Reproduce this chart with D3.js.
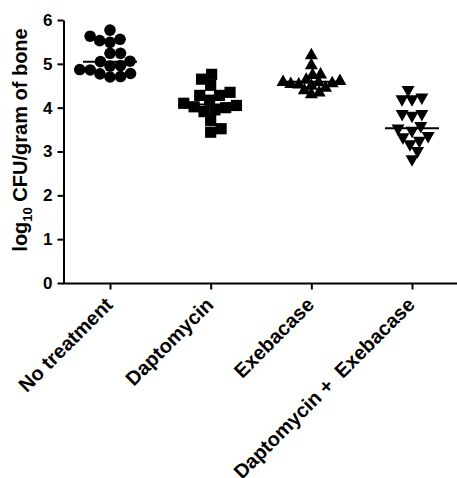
<!DOCTYPE html>
<html><head><meta charset="utf-8">
<script src="https://cdn.jsdelivr.net/npm/d3@7"></script>
<style>body{margin:0;background:#fff}svg{display:block}text{font-family:"Liberation Sans",Arial,sans-serif;font-weight:bold}</style>
</head><body>
<svg id="c" width="457" height="478"></svg>
<script>
const categories = ["No treatment", "Daptomycin", "Exebacase", "Daptomycin +  Exebacase"];
const noTreatment = [5.77, 5.63, 5.56, 5.53, 5.49, 5.24, 5.24, 5.06, 5.05, 4.96, 4.95, 4.87, 4.86, 4.78, 4.77, 4.71, 4.70];
const daptomycin = [4.76, 4.65, 4.51, 4.35, 4.28, 4.28, 4.17, 4.10, 4.05, 4.02, 4.00, 3.95, 3.91, 3.71, 3.52, 3.44];
const exebacase = [5.22, 4.99, 4.78, 4.77, 4.66, 4.63, 4.61, 4.60, 4.58, 4.56, 4.55, 4.52, 4.48, 4.42, 4.37, 4.33];
const combo = [4.38, 4.21, 4.17, 4.17, 3.83, 3.83, 3.79, 3.56, 3.50, 3.45, 3.33, 3.30, 3.22, 3.14, 2.99, 2.80];
const series = [noTreatment, daptomycin, exebacase, combo];
const symbols = ["circle", "square", "triangle", "triangleDown"];
const spacing = [10.5, 11, 8, 10];
const yTicks = [0, 1, 2, 3, 4, 5, 6];
const yTitle = "log";
const yTitleSub = "10";
const yTitleRest = " CFU/gram of bone";

const svg = d3.select("#c");
const y = d3.scaleLinear().domain([0, 6]).range([283, 20]);
const x = d3.scalePoint().domain(categories).range([110, 412]);

// y axis
const ya = svg.append("g").attr("transform", "translate(63.5,0)")
  .call(d3.axisLeft(y).tickValues(yTicks).tickFormat(d3.format("d")).tickSize(6).tickSizeOuter(0).tickPadding(5));
ya.selectAll("path,line").attr("stroke", "#000").attr("stroke-width", 2);
ya.selectAll("text").attr("font-size", 17).attr("font-weight", "bold").attr("fill", "#000")
  .attr("font-family", "Liberation Sans, Arial, sans-serif");

// x axis
svg.append("line").attr("x1", 62.5).attr("x2", 457).attr("y1", 283.5).attr("y2", 283.5)
  .attr("stroke", "#000").attr("stroke-width", 2);
const xa = svg.append("g").attr("transform", "translate(0,283.5)")
  .call(d3.axisBottom(x).tickSize(6).tickSizeOuter(0));
xa.select(".domain").remove();
xa.selectAll("line").attr("stroke", "#000").attr("stroke-width", 2);
xa.selectAll("text").remove();
categories.forEach(c => {
  svg.append("text").attr("transform", `translate(${x(c) + 4},306) rotate(-45)`)
    .attr("text-anchor", "end").attr("font-size", 20).attr("fill", "#000")
    .style("white-space", "pre").text(c);
});

// y title
const t = svg.append("text").attr("transform", "translate(27,140) rotate(-90)")
  .attr("text-anchor", "middle").attr("font-size", 20).attr("fill", "#000");
t.append("tspan").text(yTitle);
t.append("tspan").attr("font-size", 13).attr("dy", 5).text(yTitleSub);
t.append("tspan").attr("dy", -5).text(yTitleRest);
const tl = t.node().getComputedTextLength();
if (tl > 0 && Math.abs(tl - 223) > 4) {
  const f = 223 / tl;
  t.attr("font-size", 20 * f);
  t.select("tspan:nth-child(2)").attr("font-size", 13 * f);
}

// beeswarm layout (computed offsets)
function swarm(values, D) {
  const pts = values.map(v => ({ v, y: y(v) })).sort((a, b) => b.y - a.y);
  const placed = [];
  let side = 1;
  pts.forEach(p => {
    const iv = placed.filter(q => Math.abs(q.y - p.y) < D).map(q => {
      const w = Math.sqrt(D * D - (q.y - p.y) ** 2); return [q.x - w, q.x + w];
    });
    const cands = [0];
    iv.forEach(([a, b]) => cands.push(a, b));
    const ok = cands.filter(c => iv.every(([a, b]) => c <= a + 1e-6 || c >= b - 1e-6));
    ok.sort((a, b) => (Math.abs(a) - Math.abs(b)) || (side * (b - a)));
    p.x = ok[0];
    if (p.x !== 0) side = -Math.sign(p.x);
    placed.push(p);
  });
  return pts;
}

function drawSymbol(g, type, cx, cy) {
  if (type === "circle") g.append("circle").attr("cx", cx).attr("cy", cy).attr("r", 5.8);
  else if (type === "square") g.append("rect").attr("x", cx - 5.6).attr("y", cy - 5.6).attr("width", 11.2).attr("height", 11.2);
  else if (type === "triangle") g.append("path").attr("d", `M${cx},${cy - 6.5}L${cx + 6.5},${cy + 5}L${cx - 6.5},${cy + 5}Z`);
  else g.append("path").attr("d", `M${cx},${cy + 6.5}L${cx + 6.5},${cy - 5}L${cx - 6.5},${cy - 5}Z`);
}

series.forEach((vals, i) => {
  const cx = x(categories[i]);
  const g = svg.append("g").attr("fill", "#000");
  swarm(vals, spacing[i]).forEach(p => drawSymbol(g, symbols[i], cx + p.x, p.y));
  const med = d3.median(vals);
  svg.append("line").attr("x1", cx - 27).attr("x2", cx + 27).attr("y1", y(med)).attr("y2", y(med))
    .attr("stroke", "#000").attr("stroke-width", 2);
});
</script>
</body></html>
